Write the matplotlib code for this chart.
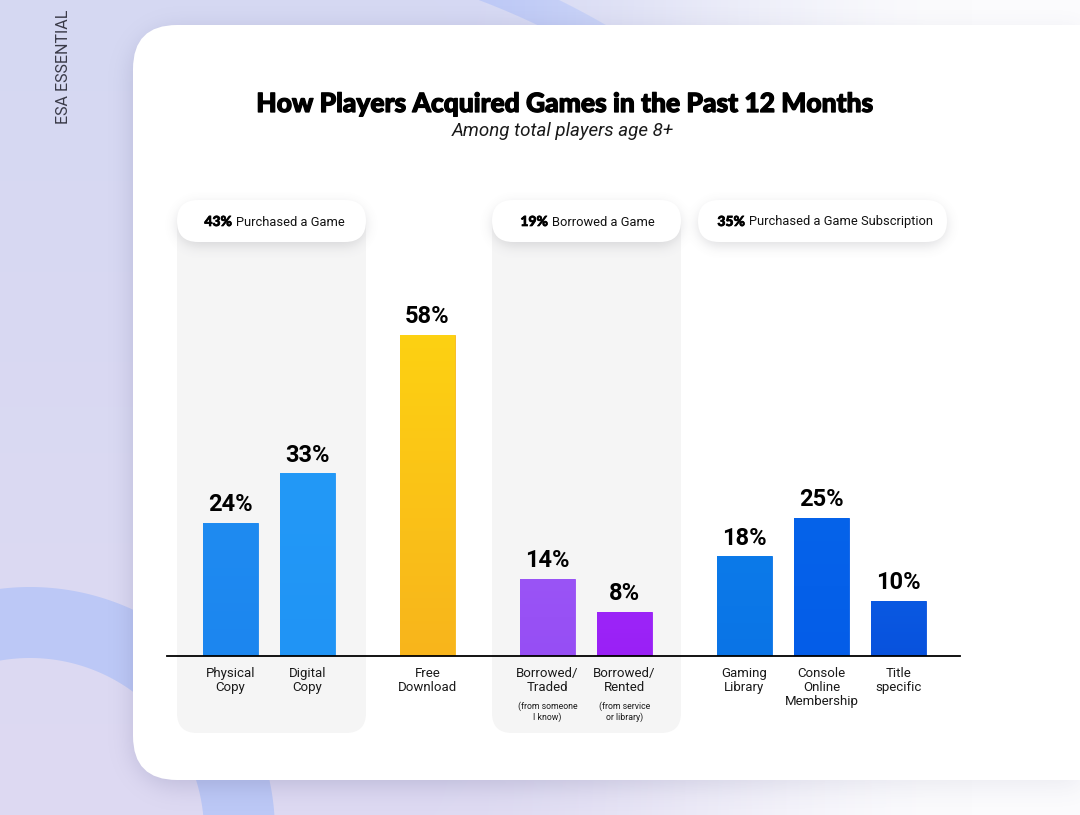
import matplotlib.pyplot as plt
import matplotlib.patheffects as pe
import numpy as np
from matplotlib.colors import to_rgb
from matplotlib.patches import FancyBboxPatch, Rectangle

W, H = 1080, 815

# ---- data ----
categories = ["Physical\nCopy", "Digital\nCopy", "Free\nDownload",
              "Borrowed/\nTraded", "Borrowed/\nRented",
              "Gaming\nLibrary", "Console\nOnline\nMembership", "Title\nspecific"]
notes = ["", "", "", "(from someone\nI know)", "(from service\nor library)", "", "", ""]
values = [24, 33, 58, 14, 8, 18, 25, 10]
group_of = [0, 0, 1, 2, 2, 3, 3, 3]
top_colors = ["#1f8bf1", "#2399f7", "#fdd112", "#9a54f6", "#9c25f8", "#0c7ae9", "#0663ea", "#0a59e2"]
bot_colors = ["#1c86ef", "#2094f5", "#f8b51c", "#964ef4", "#9a20f6", "#0a74e6", "#045de8", "#0852dd"]

pill_share = ["43%", "19%", "35%"]
pill_text = ["Purchased a Game", "Borrowed a Game", "Purchased a Game Subscription"]

title = "How Players Acquired Games in the Past 12 Months"
subtitle = "Among total players age 8+"

SANS = ["Roboto", "DejaVu Sans"]
HEAVY = ["Lato", "Roboto", "DejaVu Sans"]
thick = [pe.withStroke(linewidth=0.9, foreground="black")]

xs = np.arange(W)[None, :] + 0.5
ys = np.arange(H)[:, None] + 0.5


def rr_mask(x0, y0, x1, y1, r):
    dx = np.maximum(np.maximum(x0 + r - xs, xs - (x1 - r)), 0)
    dy = np.maximum(np.maximum(y0 + r - ys, ys - (y1 - r)), 0)
    return ((dx ** 2 + dy ** 2) <= r ** 2).astype(float)


def ring_mask(cx, cy, r_out, r_in):
    d = np.sqrt((xs - cx) ** 2 + (ys - cy) ** 2)
    return np.clip(r_out - d + 0.5, 0, 1) * np.clip(d - r_in + 0.5, 0, 1)


def blur(a, sigma):
    n = int(sigma * 3)
    k = np.exp(-0.5 * (np.arange(-n, n + 1) / sigma) ** 2)
    k /= k.sum()
    a = np.apply_along_axis(lambda r: np.convolve(r, k, mode="same"), 1, a)
    a = np.apply_along_axis(lambda c: np.convolve(c, k, mode="same"), 0, a)
    return a


fig = plt.figure(figsize=(W / 100, H / 100), dpi=100)
bg = fig.add_axes([0, 0, 1, 1])

# background: lavender with soft blue rings, fading to white on the right
Y = ys / H + 0 * xs
X = xs / W + 0 * ys
lt = np.array([213, 216, 243]) / 255
lb = np.array([222, 218, 242]) / 255
band = np.array([188, 200, 246]) / 255
rt = np.array([251, 251, 253]) / 255
img = lt * (1 - Y[..., None]) + lb * Y[..., None]
rings = np.maximum(ring_mask(30, 832, 245, 174), ring_mask(215, 700, 780, 748))
img = img * (1 - rings[..., None]) + band * rings[..., None]
t = np.clip((X - 0.4) / 0.5, 0, 1)
t = t * t * (3 - 2 * t)
img = img * (1 - t[..., None]) + rt * t[..., None]
bg.imshow(img, extent=(0, W, H, 0), aspect="auto", zorder=0)

# card shadow + card
card = (133, 25, 1200, 780)
sh = blur(rr_mask(card[0], card[1] + 6, card[2], card[3] + 6, 44), 12)
shadow = np.zeros((H, W, 4))
shadow[..., :3] = np.array([95, 95, 140]) / 255
shadow[..., 3] = 0.25 * sh * (1 - 0.6 * t)
bg.imshow(shadow, extent=(0, W, H, 0), aspect="auto", zorder=2)

bg.add_patch(FancyBboxPatch((card[0], card[1]), card[2] - card[0], card[3] - card[1],
                            boxstyle="round,pad=0,rounding_size=44",
                            facecolor="white", edgecolor="none", zorder=3))

# grey group panels and pills
pills = [(177, 366), (492, 681), (698, 947)]
pill_top, pill_bot = 200, 242
for x0, x1 in pills[:2]:
    bg.add_patch(FancyBboxPatch((x0, 221), x1 - x0, 733 - 221,
                                boxstyle="round,pad=0,rounding_size=20",
                                facecolor="#f5f5f5", edgecolor="none", zorder=4))
    bg.add_patch(Rectangle((x0, 221), x1 - x0, 40, facecolor="#f5f5f5", edgecolor="none", zorder=4))

pm = np.zeros((H, W))
for x0, x1 in pills:
    pm = np.maximum(pm, rr_mask(x0, pill_top + 4, x1, pill_bot + 4, 21))
ps = blur(pm, 6)
pshadow = np.zeros((H, W, 4))
pshadow[..., :3] = np.array([110, 110, 120]) / 255
pshadow[..., 3] = 0.22 * ps
bg.imshow(pshadow, extent=(0, W, H, 0), aspect="auto", zorder=5)

splits = [233, 549, 746]
for (x0, x1), sx, share, txt in zip(pills, splits, pill_share, pill_text):
    bg.add_patch(FancyBboxPatch((x0, pill_top), x1 - x0, pill_bot - pill_top,
                                boxstyle="round,pad=0,rounding_size=21",
                                facecolor="white", edgecolor="none", zorder=6))
    bg.text(sx - 1, 222, share, ha="right", va="center", fontsize=10, family=HEAVY,
            fontweight="black", color="black", zorder=7,
            path_effects=[pe.withStroke(linewidth=0.5, foreground="black")])
    bg.text(sx + 3, 222, txt, ha="left", va="center", fontsize=9.3, family=SANS,
            color="#111111", zorder=7)

bg.text(564, 104, title, ha="center", va="center", fontsize=19, family=HEAVY,
        fontweight="black", color="black", zorder=7, path_effects=thick)
bg.text(563, 131, subtitle, ha="center", va="center", fontsize=13.5, family=SANS,
        fontstyle="italic", color="#1a1a1a", zorder=7)
bg.text(63, 67, "ESA ESSENTIAL", rotation=90, ha="center", va="center", fontsize=11.5,
        family=SANS, color="#3a3a48", zorder=7)

bg.set_xlim(0, W)
bg.set_ylim(H, 0)
bg.axis("off")

# ---- bars ----
pos = [i + 0.558 * g for i, g in enumerate(group_of)]
ax = fig.add_axes([167 / W, (H - 656) / H, (960 - 167) / W, 332 / H])
ax.patch.set_alpha(0)
bars = ax.bar(pos, values, width=0.714, color=top_colors, edgecolor=bot_colors,
              linewidth=0.6, zorder=2)
for b, c0, c1 in zip(bars, top_colors, bot_colors):
    s = np.linspace(0, 1, 100)[:, None]
    grad = (np.array(to_rgb(c0)) * (1 - s) + np.array(to_rgb(c1)) * s)[:, None, :]
    im = ax.imshow(grad, extent=(b.get_x(), b.get_x() + b.get_width(), 0, b.get_height()),
                   aspect="auto", zorder=2.5, origin="upper")
    im.set_clip_path(b)

for p, v in zip(pos, values):
    ax.annotate(f"{v}%", (p, v), xytext=(0, 8.5), textcoords="offset points",
                ha="center", va="baseline", fontsize=17, fontweight="bold",
                family=SANS, color="black")
for p, c, n in zip(pos, categories, notes):
    ax.annotate(c, (p, 0), xytext=(0, -8), textcoords="offset points", ha="center",
                va="top", fontsize=9.5, family=SANS, color="#1a1a1a",
                linespacing=1.1, annotation_clip=False)
    if n:
        ax.annotate(n, (p, 0), xytext=(0, -33), textcoords="offset points", ha="center",
                    va="top", fontsize=6.3, family=SANS, color="#1a1a1a",
                    linespacing=1.1, annotation_clip=False)

ax.set_xlim(-0.825, 9.474)
ax.set_ylim(0, 60)
for side in ("left", "right", "top"):
    ax.spines[side].set_visible(False)
ax.spines["bottom"].set_linewidth(1.3)
ax.spines["bottom"].set_color("black")
ax.set_xticks([])
ax.set_yticks([])

fig.savefig("out.png", dpi=100)
